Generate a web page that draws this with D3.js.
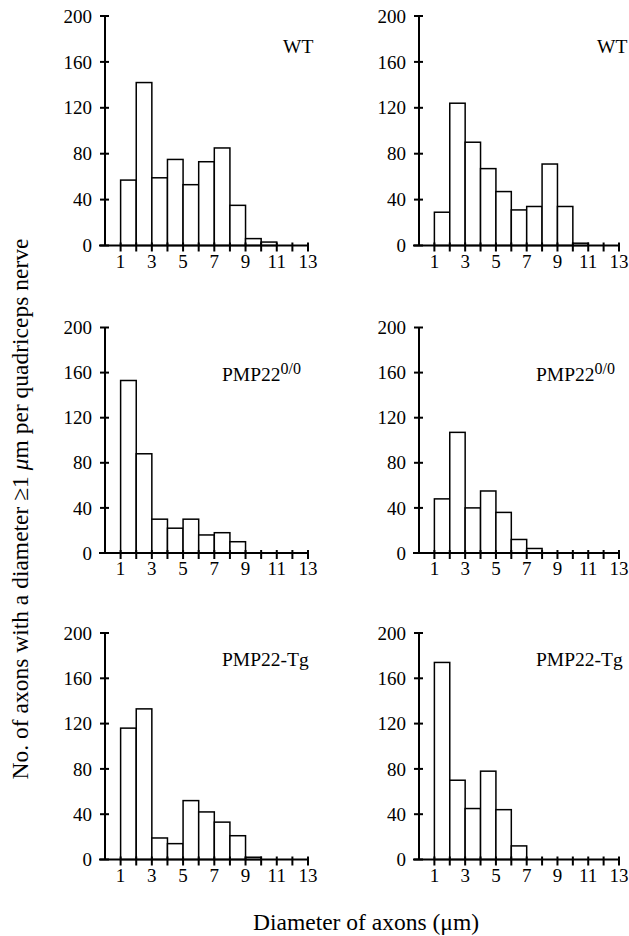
<!DOCTYPE html>
<html>
<head>
<meta charset="utf-8">
<script src="https://cdn.jsdelivr.net/npm/d3@7"></script>
<style>
  body { margin: 0; background: #fff; }
  svg text { font-family: "Liberation Serif", "Times New Roman", serif; fill: #000; }
</style>
</head>
<body>
<div id="container"></div>
<script>
// bin left edges (µm), each bin is 1 µm wide
const binStarts = [1, 2, 3, 4, 5, 6, 7, 8, 9, 10, 11, 12];
const xTicks = [1, 2, 3, 4, 5, 6, 7, 8, 9, 10, 11, 12, 13];
const xTickLabels = [1, 3, 5, 7, 9, 11, 13];
const yTicks = [0, 40, 80, 120, 160, 200];

// counts
const wtLeft = [57, 142, 59, 75, 53, 73, 85, 35, 6, 3, 0, 0];
const wtRight = [29, 124, 90, 67, 47, 31, 34, 71, 34, 2, 0, 0];
const nullLeft = [153, 88, 30, 22, 30, 16, 18, 10, 0, 0, 0, 0];
const nullRight = [48, 107, 40, 55, 36, 12, 4, 0, 0, 0, 0, 0];
const tgLeft = [116, 133, 19, 14, 52, 42, 33, 21, 2, 0, 0, 0];
const tgRight = [174, 70, 45, 78, 44, 12, 0, 0, 0, 0, 0, 0];

const panelNames = ["WT", "PMP22", "PMP22-Tg"];
const panelSup = ["", "0/0", ""];

const width = 629;
const height = 936;

const svg = d3.select("#container").append("svg")
  .attr("width", width)
  .attr("height", height);

// column = x position of y axis and axis length, row = [top (200), bottom (0)]
const cols = [105, 419];
const colLen = [203, 200];
const rows = [[16, 245.5], [327.5, 553], [633, 859.5]];
const labelDx = [178, 117, 117];
const labelDy = [37, 53, 33];

const panels = [
  [wtLeft, wtRight],
  [nullLeft, nullRight],
  [tgLeft, tgRight]
];

panels.forEach((pair, r) => {
  pair.forEach((vals, c) => {
    const x0 = cols[c];
    const x = d3.scaleLinear().domain([0, 13]).range([x0, x0 + colLen[c]]);
    const y = d3.scaleLinear().domain([0, 200]).range([rows[r][1], rows[r][0]]);
    const g = svg.append("g");

    // bars
    g.selectAll("rect")
      .data(binStarts.map((b, i) => ({ b, v: vals[i] })).filter(d => d.v > 0))
      .join("rect")
      .attr("x", d => x(d.b))
      .attr("width", d => x(d.b + 1) - x(d.b))
      .attr("y", d => y(d.v))
      .attr("height", d => y(0) - y(d.v))
      .attr("fill", "#fff")
      .attr("stroke", "#000")
      .attr("stroke-width", 1.5);

    // x axis
    g.append("line")
      .attr("x1", x(0) - 6).attr("x2", x(13))
      .attr("y1", y(0)).attr("y2", y(0))
      .attr("stroke", "#000").attr("stroke-width", 2);
    g.selectAll(".xt")
      .data(xTicks)
      .join("line")
      .attr("class", "xt")
      .attr("x1", d => x(d)).attr("x2", d => x(d))
      .attr("y1", y(0) - 3).attr("y2", y(0) + 6)
      .attr("stroke", "#000").attr("stroke-width", 2);
    g.selectAll(".xl")
      .data(xTickLabels)
      .join("text")
      .attr("class", "xl")
      .attr("x", d => Math.min(x(d), width - 10))
      .attr("y", y(0) + 22)
      .attr("text-anchor", "middle")
      .attr("font-size", 19)
      .text(d => d);

    // y axis
    g.append("line")
      .attr("x1", x(0)).attr("x2", x(0))
      .attr("y1", y(0)).attr("y2", y(200))
      .attr("stroke", "#000").attr("stroke-width", 2);
    g.selectAll(".yt")
      .data(yTicks)
      .join("line")
      .attr("class", "yt")
      .attr("x1", x(0) - 5).attr("x2", x(0) + 4)
      .attr("y1", d => y(d)).attr("y2", d => y(d))
      .attr("stroke", "#000").attr("stroke-width", 2);
    g.selectAll(".yl")
      .data(yTicks)
      .join("text")
      .attr("class", "yl")
      .attr("x", x(0) - 13)
      .attr("y", d => y(d))
      .attr("dy", "0.35em")
      .attr("text-anchor", "end")
      .attr("font-size", 19)
      .text(d => d);

    // panel label
    const t = g.append("text")
      .attr("x", x0 + labelDx[r])
      .attr("y", rows[r][0] + labelDy[r])
      .attr("font-size", 19.5)
      .text(panelNames[r]);
    if (panelSup[r]) {
      t.append("tspan")
        .attr("dy", -7)
        .attr("font-size", 16)
        .text(panelSup[r]);
    }
  });
});

// axis titles
const yTitle = svg.append("text")
  .attr("transform", "translate(20,509) rotate(-90)")
  .attr("text-anchor", "middle")
  .attr("dy", "0.35em")
  .attr("font-size", 23.5);
yTitle.append("tspan").text("No. of axons with a diameter ≥1 ");
yTitle.append("tspan").attr("font-style", "italic").text("μ");
yTitle.append("tspan").text("m per quadriceps nerve");

svg.append("text")
  .attr("x", 253)
  .attr("y", 930)
  .attr("font-size", 23.5)
  .text("Diameter of axons (μm)");
</script>
</body>
</html>
